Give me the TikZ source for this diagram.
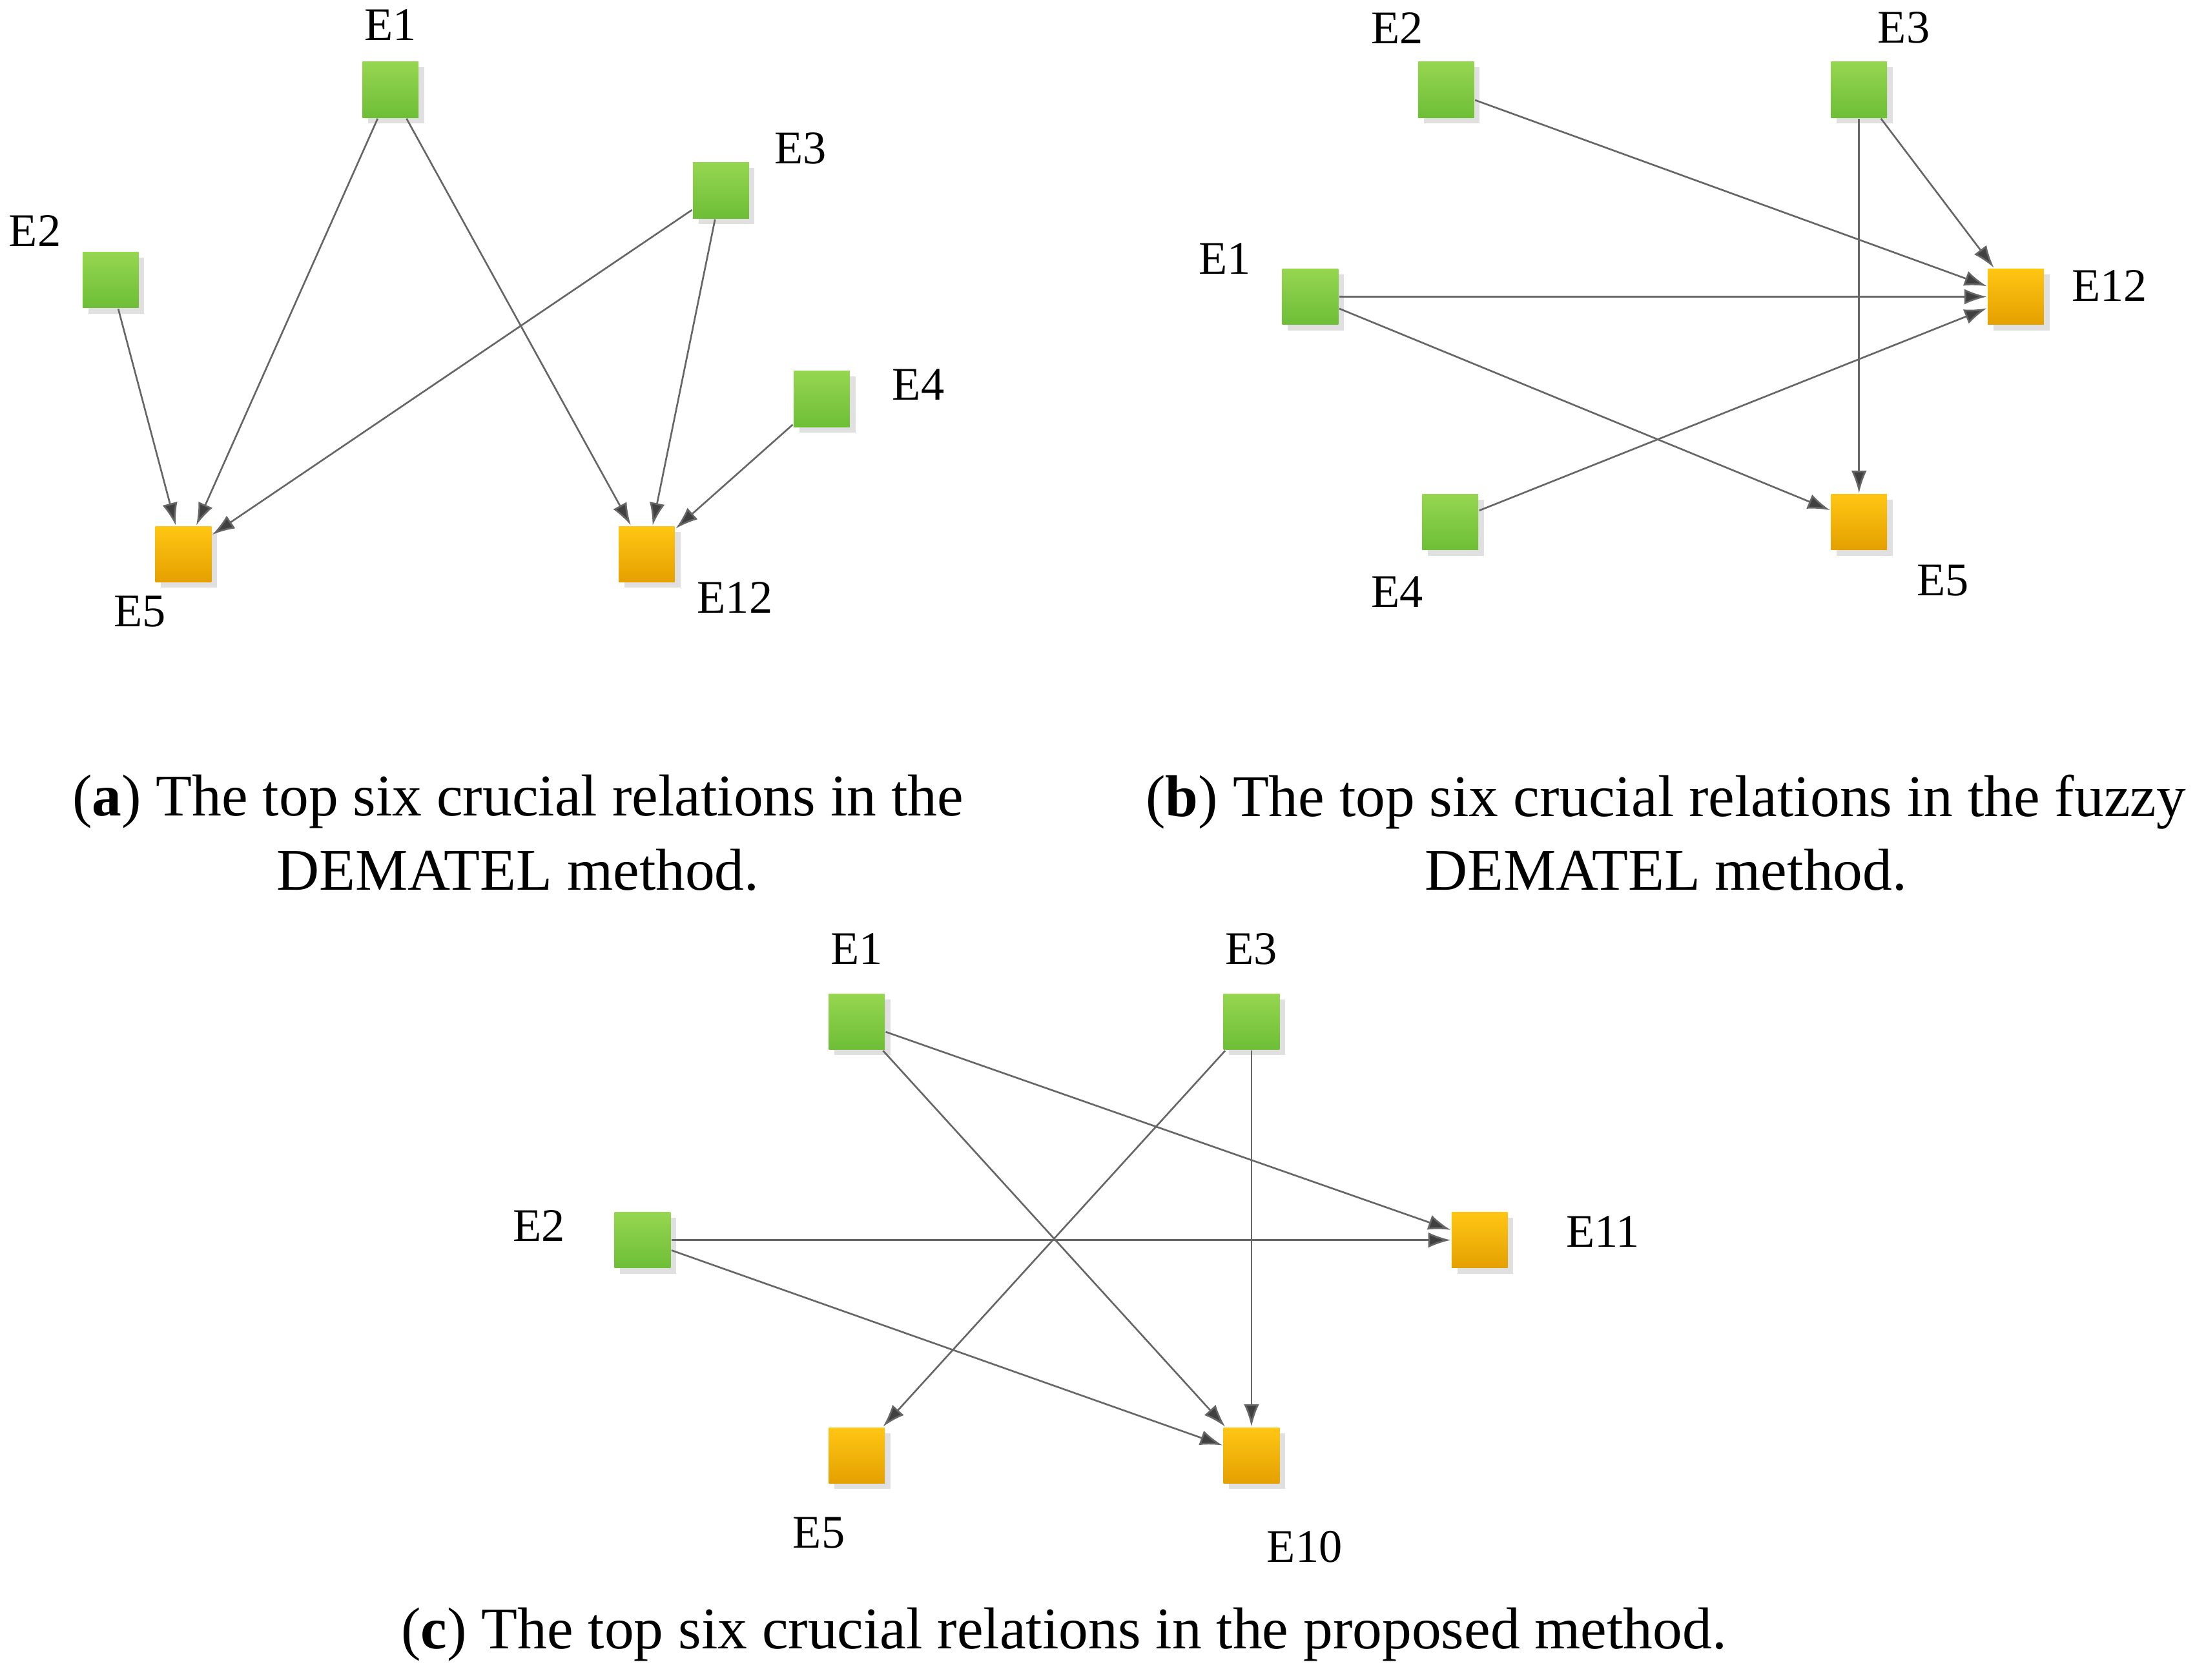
\documentclass[tikz,border=0pt]{standalone}
\usepackage{fontspec}
\setmainfont{Liberation Serif}
\usetikzlibrary{arrows.meta,shadows}
\definecolor{gtop}{RGB}{150,214,80}
\definecolor{gbot}{RGB}{110,190,55}
\definecolor{otop}{RGB}{255,198,20}
\definecolor{obot}{RGB}{228,160,0}
\begin{document}
\begin{tikzpicture}[x=0.01cm,y=-0.01cm,
  sq/.style={minimum size=0.4cm,inner sep=0,draw=none,
    drop shadow={shadow xshift=0.04cm,shadow yshift=-0.04cm,fill=black!12,opacity=1}},
  src/.style={sq,top color=gtop,bottom color=gbot},
  dst/.style={sq,top color=otop,bottom color=obot},
  lb/.style={font=\fontsize{9.5}{10}\selectfont},
  ar/.style={draw=black!60,line width=0.35pt,-{Latex[length=0.16cm,width=0.11cm,fill=black!75]}},
  captxt/.style={font=\fontsize{12}{15}\selectfont,align=center}]
\useasboundingbox (0,0) rectangle (1568,1200);
% (a)
\node[src] (a1) at (279,64) {};
\node[src] (a2) at (79,200) {};
\node[src] (a3) at (515,136) {};
\node[src] (a4) at (587,285) {};
\node[dst] (a5) at (131,396) {};
\node[dst] (a12) at (462,396) {};
\node[lb] at (279,18) {E1};
\node[lb] at (25,165) {E2};
\node[lb] at (572,106) {E3};
\node[lb] at (656,275) {E4};
\node[lb] at (100,437) {E5};
\node[lb] at (525,427) {E12};
\draw[ar] (a2) -- (a5); \draw[ar] (a1) -- (a5); \draw[ar] (a3) -- (a5);
\draw[ar] (a1) -- (a12); \draw[ar] (a3) -- (a12); \draw[ar] (a4) -- (a12);
% (b)
\node[src] (b2) at (1033,64) {};
\node[src] (b3) at (1328,64) {};
\node[src] (b1) at (936,212) {};
\node[dst] (b12) at (1440,212) {};
\node[src] (b4) at (1036,373) {};
\node[dst] (b5) at (1328,373) {};
\node[lb] at (998,20) {E2};
\node[lb] at (1360,20) {E3};
\node[lb] at (875,185) {E1};
\node[lb] at (1507,204) {E12};
\node[lb] at (998,423) {E4};
\node[lb] at (1388,415) {E5};
\draw[ar] (b2) -- (b12); \draw[ar] (b3) -- (b12); \draw[ar] (b3) -- (b5);
\draw[ar] (b1) -- (b12); \draw[ar] (b1) -- (b5); \draw[ar] (b4) -- (b12);
% (c)
\node[src] (c1) at (612,730) {};
\node[src] (c3) at (894,730) {};
\node[src] (c2) at (459,886) {};
\node[dst] (c11) at (1057,886) {};
\node[dst] (c5) at (612,1040) {};
\node[dst] (c10) at (894,1040) {};
\node[lb] at (612,678) {E1};
\node[lb] at (894,678) {E3};
\node[lb] at (385,876) {E2};
\node[lb] at (1145,880) {E11};
\node[lb] at (585,1095) {E5};
\node[lb] at (932,1105) {E10};
\draw[ar] (c1) -- (c11); \draw[ar] (c1) -- (c10); \draw[ar] (c3) -- (c5);
\draw[ar] (c3) -- (c10); \draw[ar] (c2) -- (c11); \draw[ar] (c2) -- (c10);
% captions
\node[captxt] (capa) at (370,595) {(\textbf{a}) The top six crucial relations in the\\DEMATEL method.};
\node[captxt] (capb) at (1190,595) {(\textbf{b}) The top six crucial relations in the fuzzy\\DEMATEL method.};
\node[captxt] (capc) at (760,1168) {(\textbf{c}) The top six crucial relations in the proposed method.};
\end{tikzpicture}
\end{document}
